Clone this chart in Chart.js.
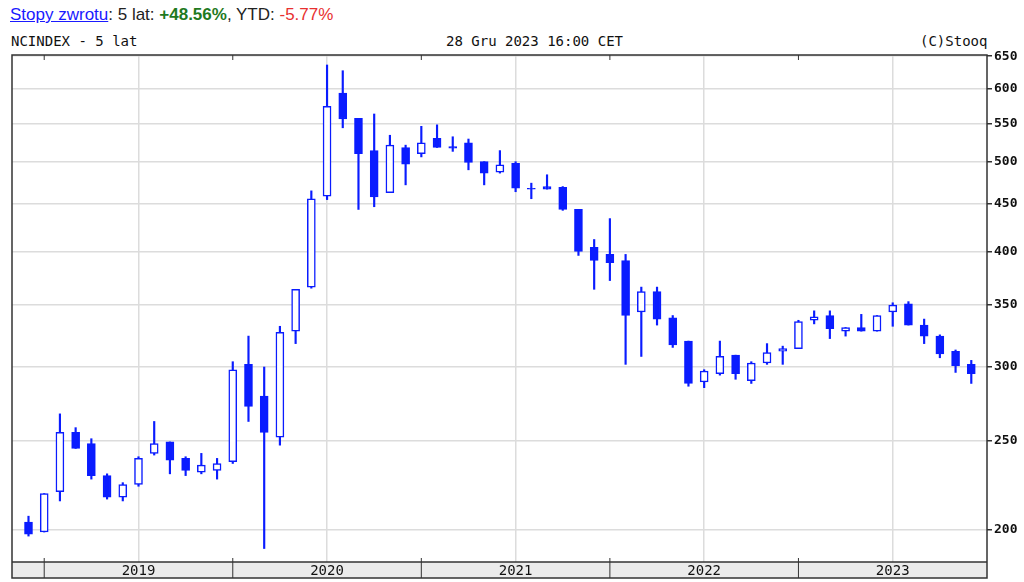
<!DOCTYPE html>
<html>
<head>
<meta charset="utf-8">
<script src="https://cdn.jsdelivr.net/npm/chart.js@4"></script>
<style>
  body { margin: 0; background: #fff; width: 1024px; height: 582px; overflow: hidden; position: relative; }
  #top { position: absolute; left: 10px; top: 5px; font: 17px "Liberation Sans", Arial, sans-serif; color: #222; }
  #top a { color: #1a1aff; text-decoration: underline; }
  .mono { position: absolute; top: 33px; font: 14px "DejaVu Sans Mono", monospace; color: #111; }
  canvas { position: absolute; left: 0; top: 0; }
</style>
</head>
<body>
<div id="top"><a>Stopy zwrotu</a>: 5 lat: <b style="color:#1f7a1f">+48.56%</b>, YTD: <span style="color:#e83030">-5.77%</span></div>
<div class="mono" style="left:11px">NCINDEX - 5 lat</div>
<div class="mono" style="left:446px">28 Gru 2023 16:00 CET</div>
<div class="mono" style="left:920px">(C)Stooq</div>
<canvas id="c" width="1024" height="582"></canvas>
<script>
// monthly candles, Dec 2018 .. Dec 2023
const opens  = [204,199,220,255,248,229,217,224,242,249,239,231,232,237,302,279,252,328,366,459,593,557,514,463,518,510,530,519,524,500,487,498,468,470,469,444,404,397,391,344,362,339,320,289,295,309,290,303,312,314,337,341,328,331,328,344,351,333,324,312,302];
const closes = [198,219,255,245,229,217,224,239,248,238,232,235,236,298,272,255,327,364,456,574,556,510,458,521,497,524,518,517,499,486,496,468,467,467,444,400,391,389,341,362,338,317,288,297,308,295,303,311,314,336,340,330,331,328,341,350,333,324,310,301,295];
const highs  = [207,219,267,258,251,230,225,240,262,249,240,242,239,304,324,300,332,364,465,636,627,557,563,534,521,546,548,532,529,500,514,500,474,484,470,444,412,434,397,366,366,341,320,298,320,309,304,318,316,337,345,345,331,342,341,352,353,338,325,313,305];
const lows   = [197,199,215,245,227,216,215,223,241,230,229,230,227,236,262,191,247,318,365,455,544,444,447,463,472,506,518,513,490,472,486,464,456,467,443,396,364,372,302,308,333,315,286,285,294,291,288,302,302,314,334,322,324,328,328,332,333,318,307,296,288];
const yearLabels = ['2019', '2020', '2021', '2022', '2023'];
const yearStarts = [1, 13, 25, 37, 49];
const yTicks = [200, 250, 300, 350, 400, 450, 500, 550, 600, 650];

const blue = '#0a1cff';
const wicks = highs.map((h, i) => ({ x: i, y: [lows[i], h] }));
const bodies = opens.map((o, i) => ({ x: i, y: [Math.min(o, closes[i]), Math.max(o, closes[i])] }));
const bodyFill = opens.map((o, i) => closes[i] < o ? blue : '#fff');

const frame = {
  id: 'frame',
  afterDraw(chart) {
    const { ctx, chartArea: a, scales: { x } } = chart;
    ctx.save();
    // year band
    ctx.fillStyle = '#ebebeb';
    ctx.fillRect(a.left, a.bottom, a.right - a.left, 16);
    ctx.strokeStyle = '#333';
    ctx.lineWidth = 1.5;
    ctx.strokeRect(a.left, a.top, a.right - a.left, a.bottom - a.top + 16);
    ctx.beginPath();
    ctx.moveTo(a.left, a.bottom); ctx.lineTo(a.right, a.bottom);
    ctx.stroke();
    ctx.lineWidth = 1;
    ctx.fillStyle = '#111';
    ctx.font = '14px "DejaVu Sans Mono", monospace';
    ctx.textAlign = 'center';
    ctx.textBaseline = 'middle';
    yearStarts.forEach((s, i) => {
      const px = x.getPixelForValue(s);
      ctx.beginPath();
      ctx.moveTo(px, a.top); ctx.lineTo(px, a.top + 5);
      ctx.moveTo(px, a.bottom - 4); ctx.lineTo(px, a.bottom + 16);
      ctx.stroke();
      ctx.fillText(yearLabels[i], x.getPixelForValue(s + 6), a.bottom + 9);
    });
    ctx.restore();
  }
};

new Chart(document.getElementById('c'), {
  type: 'bar',
  data: {
    datasets: [
      { data: bodies, backgroundColor: bodyFill, borderColor: blue, borderWidth: 1.5, borderSkipped: false, barThickness: 8, grouped: false, order: 1 },
      { data: wicks, backgroundColor: blue, borderWidth: 0, barThickness: 1.5, grouped: false, order: 2 }
    ]
  },
  options: {
    responsive: false, animation: false,
    layout: { padding: { left: 12, top: 55, bottom: 20, right: 0 } },
    plugins: { legend: { display: false }, tooltip: { enabled: false } },
    scales: {
      x: {
        type: 'linear', min: -1.05, max: 61, offset: false,
        afterBuildTicks: s => { s.ticks = yearStarts.map(v => ({ value: v })); },
        afterFit: s => { s.height = 0; },
        ticks: { display: false },
        grid: { color: '#dcdcdc', lineWidth: 1.5, drawTicks: false },
        border: { display: false }
      },
      y: {
        type: 'logarithmic', position: 'right', min: 184.7, max: 652,
        afterBuildTicks: s => { s.ticks = yTicks.map(v => ({ value: v })); },
        afterFit: s => { s.width = 37; },
        ticks: { color: '#111', font: { family: 'DejaVu Sans Mono', size: 13, weight: 'bold' }, padding: 2, callback: v => String(v) },
        grid: { color: '#dcdcdc', lineWidth: 1.5, tickLength: 5, tickColor: '#333' },
        border: { display: false }
      }
    }
  },
  plugins: [frame]
});
</script>
</body>
</html>
